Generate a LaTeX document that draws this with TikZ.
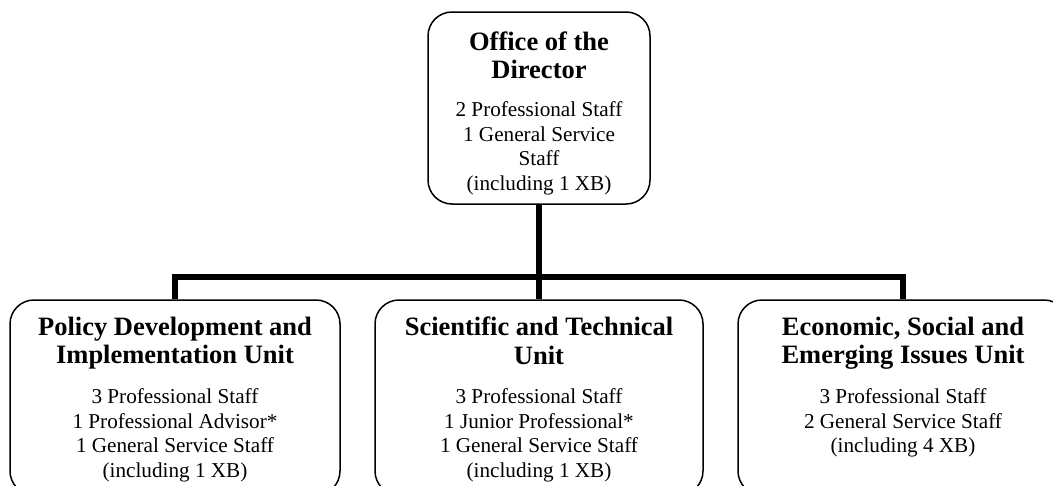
\documentclass[tikz,border=0pt]{standalone}
\usepackage{fontspec}
\setmainfont{Liberation Serif}
\begin{document}
\begin{tikzpicture}[x=1pt,y=-1pt,
  unitbox/.style={draw=black,line width=1.5pt,rounded corners=24pt,fill=white,inner sep=0pt},
  titletext/.style={anchor=north,align=center,inner sep=0pt,font=\bfseries\fontsize{26.5}{28.5}\selectfont},
  bodytext/.style={anchor=north,align=center,inner sep=0pt,font=\fontsize{21.2}{24.5}\selectfont},
  conn/.style={draw=black,line width=6pt}]
\useasboundingbox (0,0) rectangle (1053,485);
\clip (0,0) rectangle (1053,485);
% boxes
\node[unitbox,minimum width=222pt,minimum height=192pt] (dir) at (539,108) {};
\node[unitbox,minimum width=330pt,minimum height=195pt] (pd) at (175,397.5) {};
\node[unitbox,minimum width=328pt,minimum height=195pt] (st) at (539,397.5) {};
\node[unitbox,minimum width=330pt,minimum height=195pt] (es) at (903,397.5) {};
% connectors
\coordinate (bar) at (539,277);
\draw[conn] (dir.south) -- (bar) -- (st.north);
\draw[conn] (pd.north) |- (bar) -| (es.north);
% texts
\node[titletext] (dirt) at (539,31.4) {Office of the\\Director};
\node[bodytext] (dirb) at (539,101.5) {2 Professional Staff\\1 General Service\\Staff\\(including 1 XB)};
\node[titletext] (pdt) at (175,316.7) {Policy Development and\\Implementation Unit};
\node[bodytext] (pdb) at (175,388.5) {3 Professional Staff\\1 Professional Advisor*\\1 General Service Staff\\(including 1 XB)};
\node[titletext] (stt) at (539,316.7) {Scientific and Technical\\Unit};
\node[bodytext] (stb) at (539,388.5) {3 Professional Staff\\1 Junior Professional*\\1 General Service Staff\\(including 1 XB)};
\node[titletext] (est) at (903,316.7) {Economic, Social and\\Emerging Issues Unit};
\node[bodytext] (esb) at (903,388.5) {3 Professional Staff\\2 General Service Staff\\(including 4 XB)};
\end{tikzpicture}
\end{document}
